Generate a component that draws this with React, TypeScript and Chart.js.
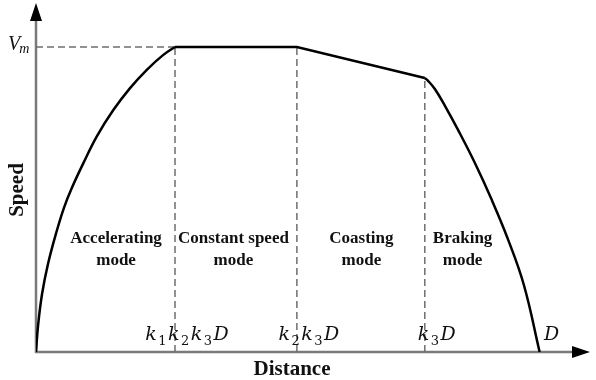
import React, { useEffect, useRef } from "react";
import { Chart, registerables } from "chart.js";

Chart.register(...registerables);

// Distances are in units of D, speeds in units of Vm
const phaseBoundaries = [0.276, 0.518, 0.772, 1.0]; // k1k2k3D, k2k3D, k3D, D
const tickLabels = ["k1k2k3D", "k2k3D", "k3D", "D"];

const accelDistance = [0, 0.004, 0.012, 0.024, 0.04, 0.056, 0.0709, 0.094, 0.1205, 0.1535, 0.1867, 0.22, 0.2528, 0.276];
const accelSpeed = [0, 0.085, 0.19, 0.29, 0.39, 0.475, 0.537, 0.619, 0.706, 0.793, 0.865, 0.925, 0.974, 1.0];

const cruiseCoastDistance = [0.276, 0.518, 0.772];
const cruiseCoastSpeed = [1.0, 1.0, 0.898];

const brakeDistance = [0.772, 0.779, 0.792, 0.812, 0.838, 0.871, 0.904, 0.937, 0.969, 1.0];
const brakeSpeed = [0.898, 0.888, 0.862, 0.807, 0.728, 0.621, 0.502, 0.37, 0.218, 0];

const maxSpeedLabel = ["V", "m"];
const modeNames = [
  ["Accelerating", "mode"],
  ["Constant speed", "mode"],
  ["Coasting", "mode"],
  ["Braking", "mode"],
];
const modeCenters = [0.159, 0.392, 0.646, 0.847];
const modeLabelLevel = 0.357;
const xTitle = "Distance";
const yTitle = "Speed";

const zip = (xs: number[], ys: number[]) => xs.map((x, i) => ({ x, y: ys[i] }));

function drawMath(ctx: CanvasRenderingContext2D, text: string, cx: number, baseline: number) {
  const mainFont = "italic 19px 'DejaVu Serif'";
  const subFont = "13px 'DejaVu Serif'";
  const gap = 1.5;
  const parts = text.split("").map((ch) => ({ ch, sub: /[0-9]/.test(ch) }));
  const widths = parts.map((p) => {
    ctx.font = p.sub ? subFont : mainFont;
    return ctx.measureText(p.ch).width;
  });
  const total = widths.reduce((a, b) => a + b, 0) + gap * (parts.length - 1);
  let x = cx - total / 2;
  ctx.textAlign = "left";
  ctx.textBaseline = "alphabetic";
  parts.forEach((p, i) => {
    ctx.font = p.sub ? subFont : mainFont;
    ctx.fillText(p.ch, x, p.sub ? baseline + 5 : baseline);
    x += widths[i] + gap;
  });
}

const diagramPlugin = {
  id: "diagram",
  beforeDatasetsDraw(chart: any) {
    const { ctx, scales } = chart;
    const xs = scales.x;
    const ys = scales.y;
    const x0 = xs.getPixelForValue(0);
    const y0 = ys.getPixelForValue(0);
    const top = chart.chartArea.top;
    const right = chart.chartArea.right;
    ctx.save();
    ctx.strokeStyle = "#7a7a7a";
    ctx.lineWidth = 2.5;
    ctx.beginPath();
    ctx.moveTo(x0, y0 + 1);
    ctx.lineTo(x0, top + 12);
    ctx.moveTo(x0 - 1, y0);
    ctx.lineTo(right - 12, y0);
    ctx.stroke();
    ctx.fillStyle = "#000";
    ctx.beginPath();
    ctx.moveTo(x0, top);
    ctx.lineTo(x0 - 6, top + 18);
    ctx.lineTo(x0 + 6, top + 18);
    ctx.closePath();
    ctx.fill();
    ctx.beginPath();
    ctx.moveTo(right, y0);
    ctx.lineTo(right - 18, y0 - 6);
    ctx.lineTo(right - 18, y0 + 6);
    ctx.closePath();
    ctx.fill();
    ctx.restore();
  },
  afterDatasetsDraw(chart: any) {
    const { ctx, scales } = chart;
    const xs = scales.x;
    const ys = scales.y;
    const y0 = ys.getPixelForValue(0);
    ctx.save();
    ctx.fillStyle = "#111";

    // y title
    ctx.save();
    ctx.translate(18, 190);
    ctx.rotate(-Math.PI / 2);
    ctx.font = "bold 21px 'Liberation Serif'";
    ctx.textAlign = "center";
    ctx.textBaseline = "middle";
    ctx.fillText(yTitle, 0, 0);
    ctx.restore();

    // x title
    ctx.font = "bold 21px 'Liberation Serif'";
    ctx.textAlign = "center";
    ctx.textBaseline = "alphabetic";
    ctx.fillText(xTitle, 292, y0 + 23);

    // Vm label
    const vmY = ys.getPixelForValue(1);
    ctx.textAlign = "left";
    ctx.font = "italic 20px 'Liberation Serif'";
    ctx.fillText(maxSpeedLabel[0], 8, vmY + 3);
    const vw = ctx.measureText(maxSpeedLabel[0]).width;
    ctx.font = "italic 14px 'Liberation Serif'";
    ctx.fillText(maxSpeedLabel[1], 7 + vw, vmY + 6);

    // mode labels
    ctx.font = "bold 17px 'Liberation Serif'";
    ctx.textAlign = "center";
    const ly = ys.getPixelForValue(modeLabelLevel);
    modeNames.forEach((lines, i) => {
      const cx = xs.getPixelForValue(modeCenters[i]);
      lines.forEach((t, j) => ctx.fillText(t, cx, ly + j * 22));
    });

    // tick labels
    tickLabels.forEach((t, i) => {
      const px = xs.getPixelForValue(phaseBoundaries[i]);
      drawMath(ctx, t, px + 12, y0 - 12);
    });
    ctx.restore();
  },
};

export default function App() {
  const ref = useRef<HTMLCanvasElement>(null);
  useEffect(() => {
    const dashed = {
      borderColor: "#6e6e6e",
      borderWidth: 1.5,
      borderDash: [7, 4],
      tension: 0,
      pointRadius: 0,
      order: 2,
    };
    const solid = {
      borderColor: "#000",
      borderWidth: 2.5,
      pointRadius: 0,
      order: 0,
    };
    const chart = new Chart(ref.current!, {
      type: "line",
      data: {
        datasets: [
          { ...solid, data: zip(accelDistance, accelSpeed), tension: 0.4 },
          { ...solid, data: zip(cruiseCoastDistance, cruiseCoastSpeed), tension: 0 },
          { ...solid, data: zip(brakeDistance, brakeSpeed), tension: 0.4 },
          { ...dashed, data: [{ x: 0, y: 1 }, { x: phaseBoundaries[0], y: 1 }] },
          { ...dashed, data: [{ x: phaseBoundaries[0], y: 0 }, { x: phaseBoundaries[0], y: accelSpeed[accelSpeed.length - 1] }] },
          { ...dashed, data: [{ x: phaseBoundaries[1], y: 0 }, { x: phaseBoundaries[1], y: cruiseCoastSpeed[1] }] },
          { ...dashed, data: [{ x: phaseBoundaries[2], y: 0 }, { x: phaseBoundaries[2], y: cruiseCoastSpeed[2] }] },
        ] as any,
      },
      options: {
        responsive: false,
        animation: false,
        layout: { padding: { left: 36, right: 6, top: 3, bottom: 28 } },
        scales: {
          x: { type: "linear", min: 0, max: 1.1, display: false },
          y: { type: "linear", min: 0, max: 1.144, display: false },
        },
        plugins: { legend: { display: false }, tooltip: { enabled: false } },
      },
      plugins: [diagramPlugin],
    });
    return () => chart.destroy();
  }, []);
  return (
    <canvas
      ref={ref}
      width={596}
      height={380}
      style={{ position: "fixed", left: 0, top: 0, background: "#fff" }}
    />
  );
}
